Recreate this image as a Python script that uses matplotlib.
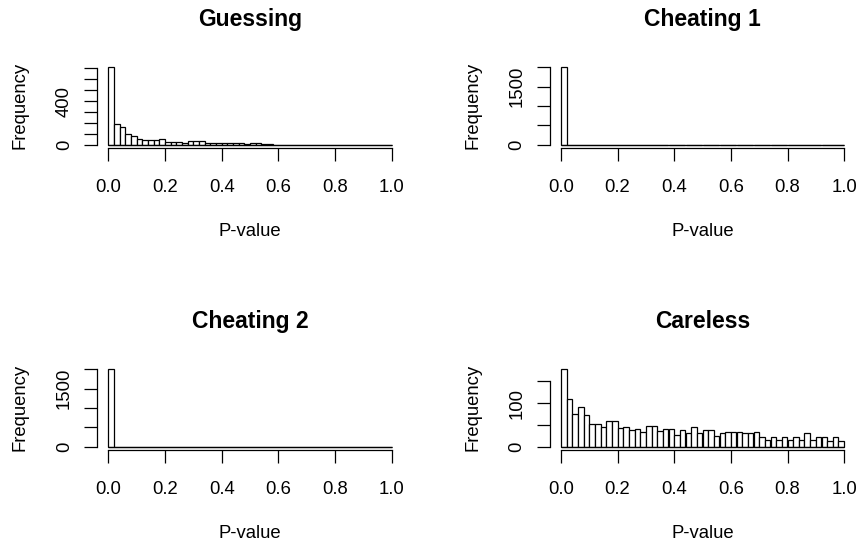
import matplotlib
matplotlib.use('Agg')
import matplotlib.pyplot as plt
import numpy as np

plt.rcParams['font.family'] = ['Liberation Sans', 'DejaVu Sans']

# bin edges for all four histograms (width 0.02)
bin_edges = np.linspace(0, 1, 51)

guessing = [710, 192, 162, 97, 78, 52, 39, 39, 39, 54,
            24, 24, 24, 12, 28, 28, 28, 15, 15, 12,
            12, 12, 12, 10, 3, 10, 10, 2, 9, 0,
            0, 0, 0, 0, 0, 0, 0, 0, 0, 0,
            0, 0, 0, 0, 0, 0, 0, 0, 0, 0]
cheating1 = [2000, 0, 0, 0, 0, 0, 0, 0, 0, 0,
             0, 0, 0, 0, 0, 0, 0, 0, 0, 0,
             0, 0, 0, 0, 0, 0, 0, 0, 0, 0,
             0, 0, 0, 0, 0, 0, 0, 0, 0, 0,
             0, 0, 0, 0, 0, 0, 0, 0, 0, 0]
cheating2 = [2000, 0, 0, 0, 0, 0, 0, 0, 0, 0,
             0, 0, 0, 0, 0, 0, 0, 0, 0, 0,
             0, 0, 0, 0, 0, 0, 0, 0, 0, 0,
             0, 0, 0, 0, 0, 0, 0, 0, 0, 0,
             0, 0, 0, 0, 0, 0, 0, 0, 0, 0]
careless = [178, 110, 75, 92, 72, 51, 51, 45, 58, 58,
            42, 45, 38, 41, 34, 47, 47, 36, 41, 41,
            27, 38, 31, 45, 31, 38, 38, 24, 31, 34,
            34, 34, 31, 31, 34, 21, 16, 21, 16, 23,
            16, 21, 16, 31, 16, 23, 23, 13, 21, 13]

titles = ['Guessing', 'Cheating 1', 'Cheating 2', 'Careless']
series = [guessing, cheating1, cheating2, careless]
y_ticks = [[0, 100, 200, 300, 400, 500, 600, 700],
           [0, 500, 1000, 1500, 2000],
           [0, 500, 1000, 1500, 2000],
           [0, 50, 100, 150]]
y_shown = [['0', '400'], ['0', '1500'], ['0', '1500'], ['0', '100']]
x_ticks = [0.0, 0.2, 0.4, 0.6, 0.8, 1.0]

W, H = 857, 544
fig = plt.figure(figsize=(W / 100, H / 100), dpi=100)

# plot regions in pixels: (left, top)
lefts = [97.0, 549.5, 97.0, 549.5]
tops = [64.2, 64.2, 366.2, 366.2]
pw, ph = 306.0, 83.4

for i in range(4):
    ax = fig.add_axes([lefts[i] / W, 1 - (tops[i] + ph) / H, pw / W, ph / H])
    counts = np.array(series[i])
    ax.bar(bin_edges[:-1], counts, width=0.02, align='edge',
           facecolor='white', edgecolor='black', linewidth=0.9)
    # empty bins still draw their bottom edge, like R's hist
    ax.hlines(0, 0, 1, colors='black', linewidth=0.9)
    ymax = counts.max()
    ax.set_xlim(-0.04, 1.04)
    ax.set_ylim(-0.04 * ymax, 1.04 * ymax)

    for s in ['top', 'right']:
        ax.spines[s].set_visible(False)
    ax.spines['left'].set_bounds(0, y_ticks[i][-1])
    ax.spines['bottom'].set_bounds(0, 1)
    for s in ['left', 'bottom']:
        ax.spines[s].set_linewidth(0.9)

    ax.set_xticks(x_ticks)
    ax.set_xticklabels(['%.1f' % v for v in x_ticks])
    ax.set_yticks(y_ticks[i])
    ax.set_yticklabels([str(v) if str(v) in y_shown[i] else '' for v in y_ticks[i]],
                       rotation=90, va='center')
    ax.tick_params(direction='out', length=9.4, width=0.9, labelsize=13.3)
    ax.tick_params(axis='x', pad=13.5)
    ax.tick_params(axis='y', pad=8)

    ax.set_xlabel('P-value', fontsize=13.3, labelpad=19)
    ax.set_ylabel('Frequency', fontsize=13.3, labelpad=19.5)
    ax.set_title(titles[i], fontsize=16.5, fontweight='bold', pad=27.5)

fig.savefig('out.png', dpi=100)
